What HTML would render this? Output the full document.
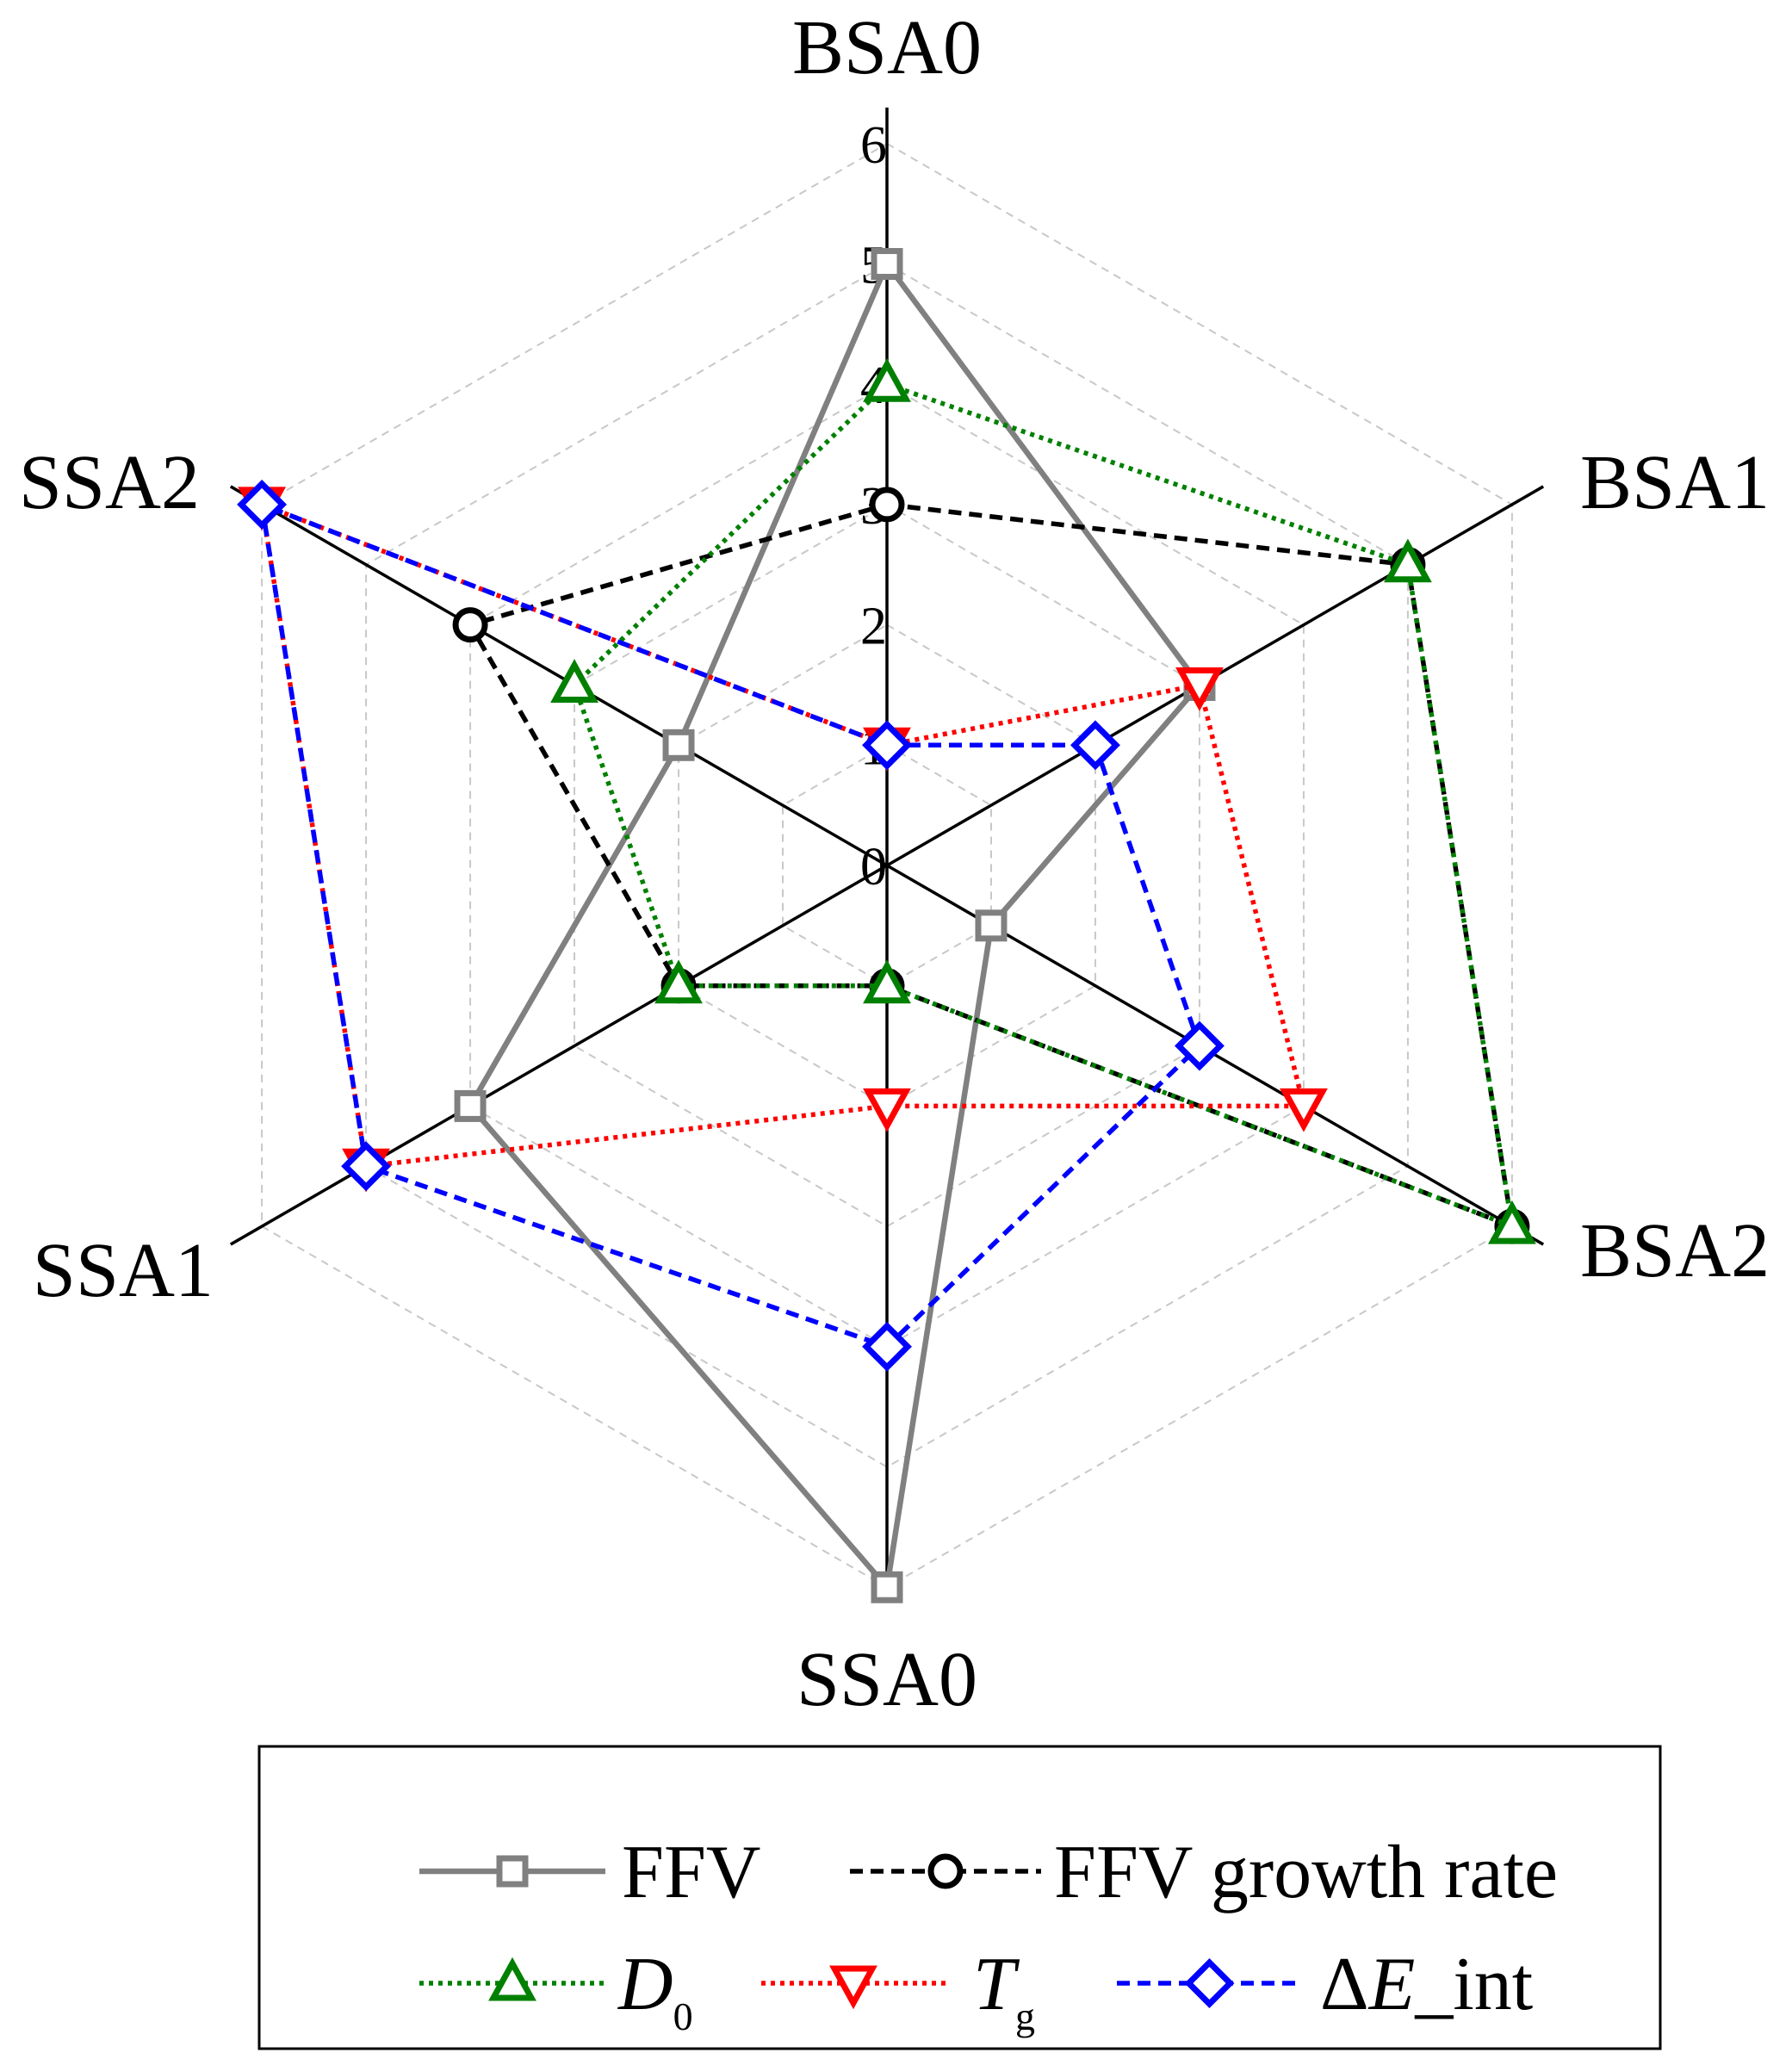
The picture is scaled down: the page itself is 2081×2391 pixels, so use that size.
<!DOCTYPE html>
<html><head><meta charset="utf-8"><style>
body{margin:0;background:#fff}
svg{display:block}
text{font-family:"Liberation Serif",serif;fill:#000}
</style></head><body>
<svg id="chart" width="2081" height="2391" viewBox="0 0 2081 2391" xmlns="http://www.w3.org/2000/svg">
<g id="grid"></g>
<g id="axes"></g>
<g id="series"></g>
<g id="legend">
<rect x="301" y="2028" width="1627" height="351" fill="none" stroke="#000" stroke-width="3"/>
</g>
</svg>
<script>
const categories=["BSA0","BSA1","BSA2","SSA0","SSA1","SSA2"];
const ticks=[0,1,2,3,4,5,6];
const ffv=[5,3,1,6,4,2];
const ffvGrowth=[3,5,6,1,2,4];
const d0=[4,5,6,1,2,3];
const tg=[1,3,4,2,5,6];
const dEint=[1,2,3,4,5,6];

const NS="http://www.w3.org/2000/svg";
const cx=1030,cy=1005,unit=139.7;
const angles=[90,30,-30,-90,210,150];
const axisLen=[6.3,6.3,6.3,6.1,6.3,6.3];
function pt(i,v){const a=angles[i]*Math.PI/180;return [cx+Math.cos(a)*v*unit,cy-Math.sin(a)*v*unit];}
function mk(tag,attrs,parent){const e=document.createElementNS(NS,tag);for(const k in attrs)e.setAttribute(k,attrs[k]);parent.appendChild(e);return e;}
const grid=document.getElementById('grid'),axes=document.getElementById('axes'),series=document.getElementById('series'),legend=document.getElementById('legend');

ticks.forEach(t=>{if(t===0)return;
 const p=categories.map((c,i)=>pt(i,t).join(',')).join(' ');
 const e=mk('polygon',{points:p,fill:'none',stroke:'#c8c8c8','stroke-width':2,'stroke-dasharray':'9,7'},grid);
 
 
});
categories.forEach((c,i)=>{
 const [x,y]=pt(i,axisLen[i]);
 const l=mk('line',{x1:cx,y1:cy,x2:x,y2:y,stroke:'#000','stroke-width':3.5},axes);
 
 
});
const labelPos=[[1030,85,'middle'],[1835,590,'start'],[1835,1482,'start'],[1030,1980,'middle'],[248,1505,'end'],[232,590,'end']];
categories.forEach((c,i)=>{
 const [x,y,a]=labelPos[i];
 const t=mk('text',{x:x,y:y,'font-size':90,'text-anchor':a},axes);t.textContent=c;
 
 
});
ticks.forEach(v=>{
 const t=mk('text',{x:1030,y:cy-v*unit+22,'font-size':62,'text-anchor':'end'},axes);t.textContent=v;
 
 
});

function marker(type,x,y,color,parent,name){
 let e;const s=7;
 if(type==='square')e=mk('rect',{x:x-15,y:y-15,width:30,height:30,fill:'#fff',stroke:color,'stroke-width':s},parent);
 else if(type==='circle')e=mk('circle',{cx:x,cy:y,r:17,fill:'#fff',stroke:color,'stroke-width':s},parent);
 else if(type==='up')e=mk('polygon',{points:`${x},${y-23} ${x+22},${y+17} ${x-22},${y+17}`,fill:'#fff',stroke:color,'stroke-width':s},parent);
 else if(type==='down')e=mk('polygon',{points:`${x},${y+23} ${x+22},${y-17} ${x-22},${y-17}`,fill:'#fff',stroke:color,'stroke-width':s},parent);
 else e=mk('polygon',{points:`${x},${y-24} ${x+24},${y} ${x},${y+24} ${x-24},${y}`,fill:'#fff',stroke:color,'stroke-width':s},parent);
 
 
}
const defs=[
 {key:'ffv',data:ffv,color:'#808080',dash:'',w:6.5,m:'square'},
 {key:'ffv-growth-rate',data:ffvGrowth,color:'#000',dash:'15,9',w:5.5,m:'circle'},
 {key:'d0',data:d0,color:'#008000',dash:'5,6',w:5.5,m:'up'},
 {key:'tg',data:tg,color:'#ff0000',dash:'5,6',w:5.5,m:'down'},
 {key:'delta-e-int',data:dEint,color:'#0000ff',dash:'15,9',w:5.5,m:'diamond'}
];
defs.forEach(d=>{
 const g=mk('g',{},series);
 
 
 const pts=d.data.map((v,i)=>pt(i,v));
 const attrs={points:pts.map(p=>p.join(',')).join(' '),fill:'none',stroke:d.color,'stroke-width':d.w};
 if(d.dash)attrs['stroke-dasharray']=d.dash;
 const pl=mk('polygon',attrs,g);
 
 
 pts.forEach((p,i)=>marker(d.m,p[0],p[1],d.color,g,'point-'+d.key+'-'+categories[i].toLowerCase()));
});

const leg=[
 {d:defs[0],x1:487,x2:703,y:2173,tx:722,html:'FFV'},
 {d:defs[1],x1:987,x2:1209,y:2173,tx:1224,html:'FFV growth rate'},
 {d:defs[2],x1:487,x2:703,y:2303,tx:718,html:'<tspan font-style="italic">D</tspan><tspan font-size="46" dy="24">0</tspan>'},
 {d:defs[3],x1:884,x2:1098,y:2303,tx:1130,html:'<tspan font-style="italic">T</tspan><tspan font-size="46" dy="24">g</tspan>'},
 {d:defs[4],x1:1297,x2:1512,y:2303,tx:1533,html:'Δ<tspan font-style="italic">E</tspan>_int'}
];
leg.forEach(l=>{
 const g=mk('g',{},legend);
 
 
 const a={x1:l.x1,y1:l.y,x2:l.x2,y2:l.y,stroke:l.d.color,'stroke-width':l.d.w};
 if(l.d.dash)a['stroke-dasharray']=l.d.dash;
 mk('line',a,g);
 marker(l.d.m,(l.x1+l.x2)/2,l.y,l.d.color,g,'legend-marker-'+l.d.key);
 const t=mk('text',{x:l.tx,y:l.y+30,'font-size':88},g);t.innerHTML=l.html;
 
 
});
</script>
</body></html>
